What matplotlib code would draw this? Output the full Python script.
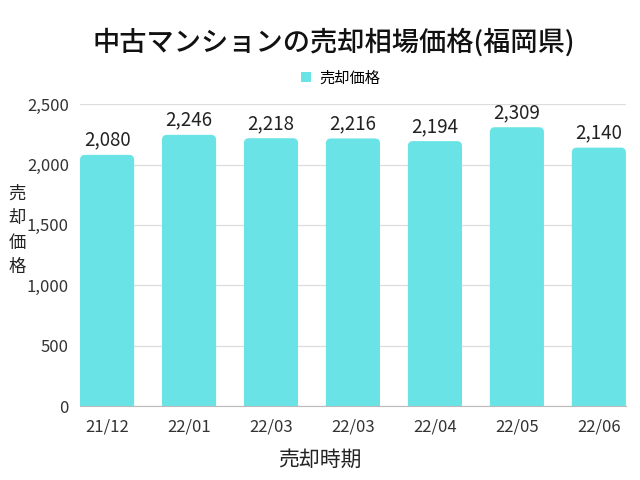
import matplotlib.pyplot as plt
from matplotlib.patches import FancyBboxPatch

plt.rcParams['font.family'] = ['Noto Sans CJK JP', 'DejaVu Sans']

periods = ['21/12', '22/01', '22/03', '22/03', '22/04', '22/05', '22/06']
prices = [2080, 2246, 2218, 2216, 2194, 2309, 2140]
color = '#69e3e6'

fig = plt.figure(figsize=(6.4, 4.8), dpi=100)
ax = fig.add_axes([0.125, 0.154, 0.853, 0.629])

w = 0.66
ax.set_xlim(-w / 2, len(prices) - 1 + w / 2)
ax.set_ylim(0, 2500)

# rounded tops: x units per px vs y units per px
xpp = (len(prices) - 1 + w) / (0.853 * 640)
ypp = 2500 / (0.629 * 480)
r = 5 * xpp
for i, v in enumerate(prices):
    p = FancyBboxPatch((i - w / 2, -200), w, v + 200,
                       boxstyle='round,pad=0,rounding_size=%f' % r,
                       mutation_aspect=ypp / xpp,
                       facecolor=color, edgecolor='none', zorder=2)
    ax.add_patch(p)
    ax.text(i, v + 35, f'{v:,}', ha='center', va='bottom', fontsize=13.5, color='#222222')
# legend proxy
ax.bar([0], [0], color=color, label='売却価格')

ax.set_xticks(range(len(periods)))
ax.set_xticklabels(periods)
ax.set_yticks(range(0, 2501, 500))
ax.set_yticklabels([f'{t:,}' for t in range(0, 2501, 500)])
ax.tick_params(length=0, labelsize=12, colors='#333333', pad=9)
ax.tick_params(axis='y', pad=8)
ax.grid(axis='y', color='#dddddd', linewidth=0.9, zorder=0)
ax.set_axisbelow(True)
for s in ['top', 'right', 'left']:
    ax.spines[s].set_visible(False)
ax.spines['bottom'].set_color('#bbbbbb')
ax.spines['bottom'].set_zorder(3)

fig.text(0.522, 0.912, '中古マンションの売却相場価格(福岡県)', ha='center', va='center',
         fontsize=19.6, fontweight='medium', color='#111111')
fig.legend(loc='center', bbox_to_anchor=(0.533, 0.838), frameon=False, fontsize=11,
           handlelength=0.6, handleheight=0.6, handletextpad=0.6)
fig.text(0.5, 0.042, '売却時期', ha='center', va='center', fontsize=15, color='#222222')
fig.text(0.027, 0.52, '売\n却\n価\n格', ha='center', va='center', fontsize=12.5,
         color='#222222', linespacing=1.45)

fig.savefig('out.png', dpi=100)
